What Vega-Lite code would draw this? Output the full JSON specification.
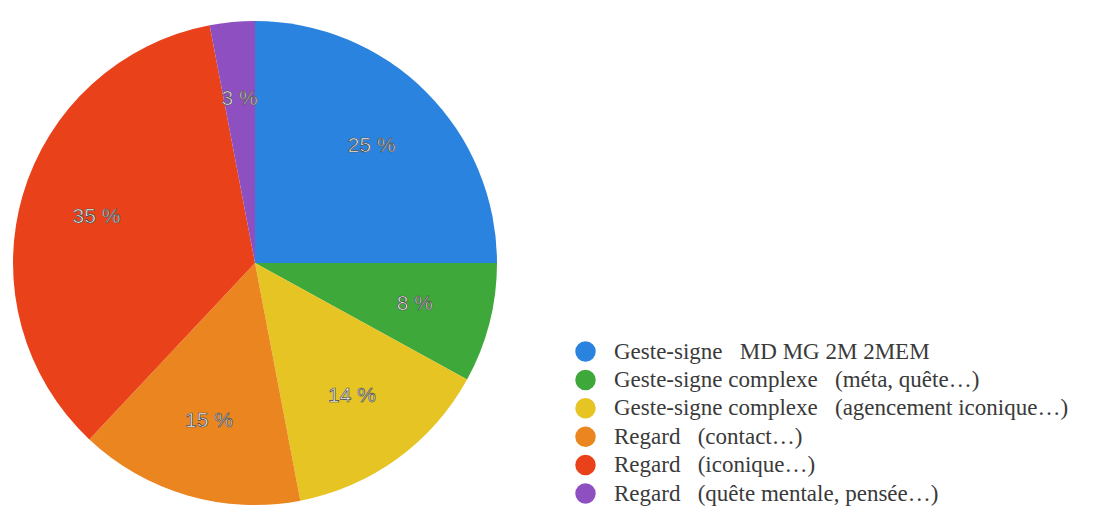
{
  "$schema": "https://vega.github.io/schema/vega-lite/v6.json",
  "width": 510,
  "height": 500,
  "autosize": {"type": "none"},
  "padding": {"left": 0, "top": 13, "right": 588, "bottom": 0},
  "background": "white",
  "config": {"view": {"stroke": null}},
  "data": {
    "values": [
      {"ordre": 1, "categorie": "Geste-signe \u00a0\u00a0MD MG 2M 2MEM", "pourcentage": 25},
      {"ordre": 2, "categorie": "Geste-signe complexe \u00a0\u00a0(méta, quête…)", "pourcentage": 8},
      {"ordre": 3, "categorie": "Geste-signe complexe \u00a0\u00a0(agencement iconique…)", "pourcentage": 14},
      {"ordre": 4, "categorie": "Regard \u00a0\u00a0(contact…)", "pourcentage": 15},
      {"ordre": 5, "categorie": "Regard \u00a0\u00a0(iconique…)", "pourcentage": 35},
      {"ordre": 6, "categorie": "Regard \u00a0\u00a0(quête mentale, pensée…)", "pourcentage": 3}
    ]
  },
  "encoding": {
    "theta": {"field": "pourcentage", "type": "quantitative", "stack": true},
    "order": {"field": "ordre", "type": "quantitative", "sort": "ascending"},
    "color": {
      "field": "categorie",
      "type": "nominal",
      "sort": {"field": "ordre"},
      "scale": {
        "range": ["#2a83de", "#3fa83a", "#e6c424", "#eb8520", "#e9421a", "#8e4fc0"]
      },
      "legend": {
        "title": null,
        "orient": "none",
        "legendX": 574,
        "legendY": 327,
        "padding": 0,
        "symbolType": "circle",
        "symbolSize": 420,
        "symbolStrokeWidth": 0,
        "labelFont": "Liberation Serif",
        "labelFontSize": 23,
        "labelColor": "#3a3a3a",
        "labelOffset": 17,
        "rowPadding": 4.4,
        "labelLimit": 700
      }
    }
  },
  "layer": [
    {
      "mark": {"type": "arc", "outerRadius": 242, "stroke": null}
    },
    {
      "mark": {
        "type": "text",
        "radius": 165,
        "font": "Liberation Sans",
        "fontSize": 21,
        "fill": "#f6f6f6",
        "stroke": "#4a4a4a",
        "strokeWidth": 0.7,
        "baseline": "middle",
        "align": "center"
      },
      "encoding": {
        "text": {"field": "etiquette", "type": "nominal"},
        "color": {"value": "#f6f6f6"}
      },
      "transform": [{"calculate": "datum.pourcentage + ' %'", "as": "etiquette"}]
    }
  ]
}
